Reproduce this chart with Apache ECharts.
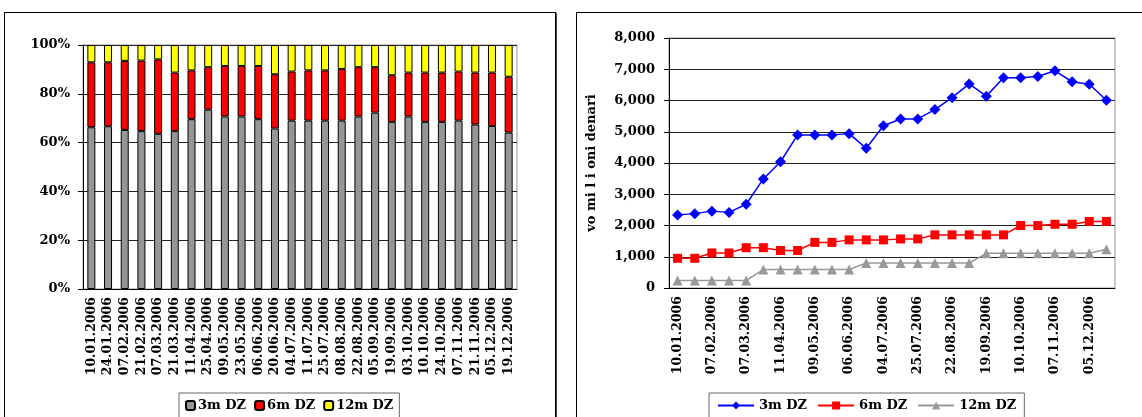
<!DOCTYPE html>
<html>
<head>
<meta charset="utf-8">
<script src="https://cdn.jsdelivr.net/npm/echarts@6/dist/echarts.min.js"></script>
<style>
  html, body { margin: 0; padding: 0; background: #fff; width: 1142px; height: 417px; overflow: hidden; }
  .box {
    position: absolute;
    border: 1px solid #000;
    box-shadow: 1px 1px 0 #444;
  }
  #left { left: 4px; top: 12px; width: 550px; height: 430px; }
  #right { left: 576px; top: 12px; width: 600px; height: 430px; }
</style>
</head>
<body>
<div class="box" id="left"></div>
<div class="box" id="right"></div>
<script>
// datumi na aukciite
const dates = [
  '10.01.2006', '24.01.2006', '07.02.2006', '21.02.2006', '07.03.2006', '21.03.2006',
  '11.04.2006', '25.04.2006', '09.05.2006', '23.05.2006', '06.06.2006', '20.06.2006',
  '04.07.2006', '11.07.2006', '25.07.2006', '08.08.2006', '22.08.2006', '05.09.2006',
  '19.09.2006', '03.10.2006', '10.10.2006', '24.10.2006', '07.11.2006', '21.11.2006',
  '05.12.2006', '19.12.2006'
];

// struktura vo % (levo)
const share3m = [66.3, 66.7, 65.2, 64.7, 63.6, 64.7, 69.6, 73.5, 70.7, 70.7, 69.6, 65.8, 69.0,
  69.0, 69.0, 69.0, 70.7, 72.3, 68.5, 70.7, 68.5, 68.5, 69.0, 67.4, 66.8, 64.1];
const share6m = [26.6, 26.2, 28.3, 28.9, 30.5, 24.0, 20.0, 17.4, 20.7, 20.7, 21.8, 22.2, 20.1,
  20.6, 20.6, 21.2, 20.2, 18.6, 19.1, 18.0, 20.2, 20.2, 20.1, 21.3, 21.9, 22.9];
const share12m = [7.1, 7.1, 6.5, 6.4, 5.9, 11.3, 10.4, 9.1, 8.6, 8.6, 8.6, 12.0, 10.9,
  10.4, 10.4, 9.8, 9.1, 9.1, 12.4, 11.3, 11.3, 11.3, 10.9, 11.3, 11.3, 13.0];

// iznosi vo milioni denari (desno)
const dz3m = [2340, 2380, 2460, 2420, 2680, 3490, 4040, 4900, 4900, 4900, 4940, 4470, 5190,
  5410, 5410, 5710, 6090, 6530, 6140, 6730, 6730, 6770, 6950, 6600, 6520, 6010];
const dz6m = [950, 950, 1120, 1120, 1290, 1290, 1200, 1200, 1460, 1460, 1540, 1540, 1540,
  1570, 1570, 1700, 1700, 1700, 1700, 1700, 2000, 2000, 2040, 2040, 2130, 2130];
const dz12m = [240, 240, 240, 240, 240, 590, 590, 590, 590, 590, 590, 800, 800,
  800, 800, 800, 800, 800, 1110, 1110, 1110, 1110, 1110, 1110, 1110, 1240];

const seriesNames = ['3m DZ', '6m DZ', '12m DZ'];

const font = 'DejaVu Serif';
const txt = { fontFamily: font, fontWeight: 'bold', color: '#000' };

// levo - 100% stacked
const chart1 = echarts.init(document.getElementById('left'));
const option1 = {
  animation: false,
  grid: {
    left: 78, top: 32, width: 434, height: 244,
    show: true, borderColor: '#999', borderWidth: 1
  },
  xAxis: {
    type: 'category',
    data: dates,
    axisLine: { lineStyle: { color: '#000' } },
    axisTick: { interval: 0, length: 5, lineStyle: { color: '#000' } },
    axisLabel: Object.assign({ interval: 0, rotate: 90, fontSize: 12.5, margin: 8 }, txt)
  },
  yAxis: {
    type: 'value',
    min: 0, max: 100, interval: 20,
    axisLine: { show: true, lineStyle: { color: '#000' } },
    axisTick: { show: true, length: 5, lineStyle: { color: '#000' } },
    axisLabel: Object.assign({ fontSize: 13, margin: 13, formatter: '{value}%' }, txt),
    splitLine: { lineStyle: { color: '#222' } }
  },
  legend: {
    left: 174, top: 380,
    data: seriesNames,
    itemWidth: 9, itemHeight: 9, itemGap: 8,
    borderColor: '#666', borderWidth: 1, padding: [6, 6, 12, 6],
    textStyle: Object.assign({ fontSize: 13, padding: [0, 0, 0, -2] }, txt)
  },
  series: [
    { name: '3m DZ', type: 'bar', stack: 's', data: share3m, barWidth: 8,
      itemStyle: { color: '#969696', borderColor: '#000', borderWidth: 1 } },
    { name: '6m DZ', type: 'bar', stack: 's', data: share6m, barWidth: 8,
      itemStyle: { color: '#ff0000', borderColor: '#000', borderWidth: 1 } },
    { name: '12m DZ', type: 'bar', stack: 's', data: share12m, barWidth: 8,
      itemStyle: { color: '#ffff00', borderColor: '#000', borderWidth: 1 } }
  ]
};
chart1.setOption(option1);

// desno - iznosi
const chart2 = echarts.init(document.getElementById('right'));
const option2 = {
  animation: false,
  grid: {
    left: 87, top: 25, width: 451, height: 250,
    show: true, borderColor: '#999', borderWidth: 1
  },
  xAxis: {
    type: 'category',
    data: dates,
    boundaryGap: true,
    axisLine: { lineStyle: { color: '#000' } },
    axisTick: { interval: 0, length: 5, lineStyle: { color: '#000' } },
    axisLabel: Object.assign({ interval: 1, rotate: 90, fontSize: 12.5, margin: 8 }, txt)
  },
  yAxis: {
    type: 'value',
    min: 0, max: 8000, interval: 1000,
    name: 'vo mi l i oni denari',
    nameLocation: 'middle',
    nameRotate: 90,
    nameGap: 71,
    nameTextStyle: Object.assign({ fontSize: 13 }, txt),
    axisLine: { show: true, lineStyle: { color: '#000' } },
    axisTick: { show: true, length: 5, lineStyle: { color: '#000' } },
    axisLabel: Object.assign({
      fontSize: 13, margin: 14,
      formatter: v => v.toLocaleString('en-US')
    }, txt),
    splitLine: { lineStyle: { color: '#222' } }
  },
  legend: {
    left: 132, top: 380,
    data: seriesNames,
    itemWidth: 36, itemHeight: 10, itemGap: 10,
    borderColor: '#666', borderWidth: 1, padding: [6, 8, 12, 8],
    textStyle: Object.assign({ fontSize: 13 }, txt)
  },
  series: [
    { name: '3m DZ', type: 'line', data: dz3m, symbol: 'diamond', symbolSize: 11, showAllSymbol: true,
      lineStyle: { color: '#0000ff', width: 1.5 }, itemStyle: { color: '#0000ff' } },
    { name: '6m DZ', type: 'line', data: dz6m, symbol: 'rect', symbolSize: 9, showAllSymbol: true,
      lineStyle: { color: '#ff0000', width: 1.5 }, itemStyle: { color: '#ff0000' } },
    { name: '12m DZ', type: 'line', data: dz12m, symbol: 'triangle', symbolSize: 10, showAllSymbol: true,
      lineStyle: { color: '#999999', width: 1.5 }, itemStyle: { color: '#999999' } }
  ]
};
chart2.setOption(option2);
</script>
</body>
</html>
